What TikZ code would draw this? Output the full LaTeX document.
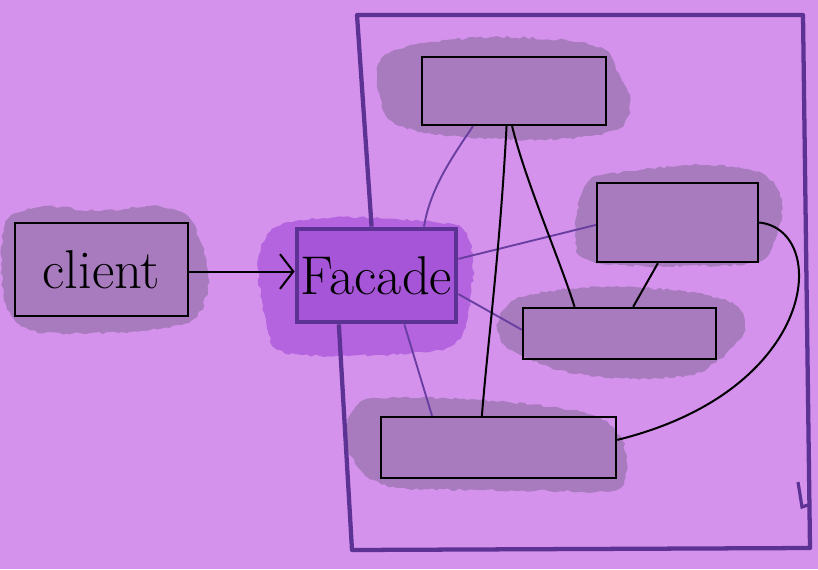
\documentclass[tikz,border=0pt]{standalone}
\usetikzlibrary{calc,arrows.meta,decorations.pathmorphing}

\definecolor{paper}{RGB}{212,146,236}
\definecolor{wash}{RGB}{168,122,190}
\definecolor{facadewash}{RGB}{180,100,222}
\definecolor{facadefill}{RGB}{166,84,216}
\definecolor{frameline}{RGB}{92,50,148}
\definecolor{linkline}{RGB}{104,62,160}

\tikzset{every picture/.style={line width=0.75pt}}
\tikzset{
  blob/.style={fill=wash, decorate, decoration={random steps,segment length=3pt,amplitude=1pt}},
  part/.style={draw=black, line width=1.8pt, inner sep=0pt},
  bigtext/.style={font=\fontsize{41}{48}\selectfont},
  link/.style={draw=linkline, line width=1.4pt},
  wire/.style={draw=black, line width=1.5pt},
}

\begin{document}
\begin{tikzpicture}[x=0.75pt,y=0.75pt,yscale=-1,xscale=1]
            \useasboundingbox (0,0) rectangle (818,569);
            %Paper
            \fill[paper] (0,0) rectangle (818,569);

            %Washes behind the boxes
            \fill[blob] plot[smooth cycle] coordinates {(5,225) (40,207) (100,211) (150,206) (185,214) (202,245) (209,282) (195,318) (150,330) (90,333) (30,330) (4,300)};
            \fill[blob,fill=facadewash] plot[smooth cycle] coordinates {(270,232) (300,220) (360,217) (420,221) (462,228) (473,260) (470,300) (462,335) (440,350) (380,355) (320,356) (275,348) (262,300) (258,260)};
            \fill[blob] plot[smooth cycle] coordinates {(385,55) (430,42) (500,37) (570,41) (605,50) (616,70) (630,100) (620,128) (570,138) (500,139) (430,133) (390,120) (377,85)};
            \fill[blob] plot[smooth cycle] coordinates {(590,180) (640,170) (700,165) (760,172) (782,200) (775,240) (758,262) (700,266) (620,265) (580,255) (577,215)};
            \fill[blob] plot[smooth cycle] coordinates {(515,300) (560,290) (620,287) (690,292) (735,305) (745,330) (725,355) (690,375) (620,378) (560,370) (510,350) (497,325)};
            \fill[blob] plot[smooth cycle] coordinates {(360,402) (420,398) (480,400) (560,408) (600,418) (622,440) (627,470) (615,490) (560,491) (480,490) (400,488) (365,475) (345,440)};

            %Boxes
            \node[part, minimum width=129.75pt, minimum height=69.75pt, bigtext] (client) at (101.5,269.5) {client};
            \node[part, draw=frameline, line width=3.6pt, fill=facadefill, minimum width=119.25pt, minimum height=69.75pt, bigtext] (facade) at (376.5,275.5) {Facade};
            \node[part, minimum width=138pt, minimum height=51pt] (top) at (514,91) {};
            \node[part, minimum width=120.75pt, minimum height=59.25pt] (right) at (677.5,222.5) {};
            \node[part, minimum width=144.75pt, minimum height=38.25pt] (middle) at (619.5,333.5) {};
            \node[part, minimum width=176.25pt, minimum height=45.75pt] (bottom) at (498.5,447.5) {};

            %Frame round the subsystem
            \draw[frameline, line width=3.2pt, line join=round] ($(facade.north west)!0.47!(facade.north east)$) -- (357,15) -- (803,15) -- (810,548) -- (352,550) -- ($(facade.south west)!0.27!(facade.south east)$);
            \draw[frameline, line width=2.4pt] (798,482) -- (802,507) -- (808,505);

            %Client to facade
            \draw[line width=1.5pt, -{Straight Barb[length=10pt,width=26pt]}] ([yshift=1.5pt]client.east) -- ([yshift=1.5pt]client.east -| facade.west);

            %Facade links
            \draw[link] ($(top.south west)!0.28!(top.south east)$) .. controls (450,160) and (430,190) .. ($(facade.north west)!0.79!(facade.north east)$);
            \draw[link] ($(facade.north east)!0.33!(facade.south east)$) -- ($(right.north west)!0.53!(right.south west)$);
            \draw[link] ($(facade.north east)!0.69!(facade.south east)$) -- ($(middle.north west)!0.43!(middle.south west)$);
            \draw[link] ($(facade.south west)!0.67!(facade.south east)$) -- ($(bottom.north west)!0.22!(bottom.north east)$);

            %Links inside the subsystem
            \draw[wire] ($(top.south west)!0.46!(top.south east)$) .. controls (500,250) and (488,340) .. ($(bottom.north west)!0.43!(bottom.north east)$);
            \draw[wire] ($(top.south west)!0.49!(top.south east)$) .. controls (525,180) and (560,260) .. ($(middle.north west)!0.27!(middle.north east)$);
            \draw[wire] ($(right.south west)!0.38!(right.south east)$) -- ($(middle.north west)!0.57!(middle.north east)$);
            \draw[wire] (right.east) .. controls (830,230) and (820,390) .. ($(bottom.north east)!0.38!(bottom.south east)$);

        \end{tikzpicture}
\end{document}
